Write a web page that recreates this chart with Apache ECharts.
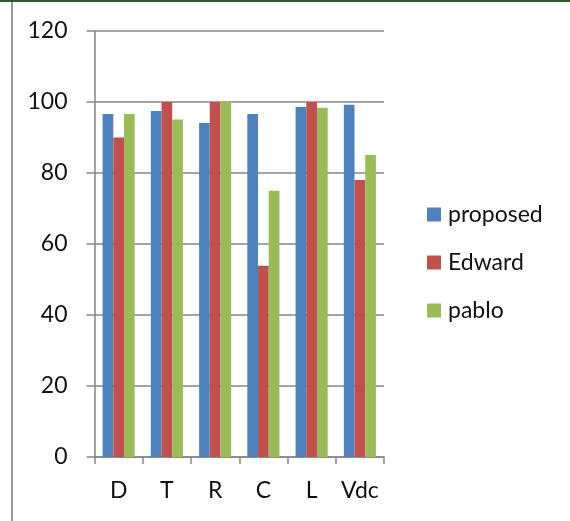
<!DOCTYPE html>
<html>
<head>
<meta charset="utf-8">
<script src="https://cdn.jsdelivr.net/npm/echarts@6/dist/echarts.min.js"></script>
<style>
  html, body { margin: 0; padding: 0; background: #fff; }
  #chart { width: 570px; height: 521px; }
</style>
</head>
<body>
<div id="chart"></div>
<script>
// Categories and series values
const categories = ['D', 'T', 'R', 'C', 'L', 'Vdc'];
const proposed = [96.6, 97.5, 94.1, 96.6, 98.6, 99.2];
const edward = [90.0, 100, 100, 53.9, 100, 78.0];
const pablo = [96.6, 95.1, 100, 75.0, 98.4, 85.1];
const seriesNames = ['proposed', 'Edward', 'pablo'];
const colors = ['#4F81BD', '#C0504D', '#9BBB59'];

const font = 'Lato, "Liberation Sans", sans-serif';
const axisGray = '#868686';
const textColor = '#111';

const chart = echarts.init(document.getElementById('chart'), null, { renderer: 'canvas' });

const values = [proposed, edward, pablo];

chart.setOption({
  animation: false,
  backgroundColor: '#fff',
  color: colors,
  graphic: [
    { type: 'rect', shape: { x: 0, y: 0, width: 570, height: 2 }, style: { fill: '#2f5a2f' } },
    { type: 'rect', shape: { x: 11, y: 2, width: 2, height: 519 }, style: { fill: '#9a9a9a' } }
  ],
  grid: { left: 94.5, right: 186, top: 31, bottom: 64, containLabel: false },
  legend: {
    orient: 'vertical',
    left: 427,
    top: 203,
    padding: 0,
    itemWidth: 14,
    itemHeight: 14,
    itemGap: 25,
    icon: 'rect',
    textStyle: { fontFamily: font, fontSize: 23, lineHeight: 23, color: textColor, padding: [0, 0, 0, 2] },
    data: seriesNames
  },
  xAxis: {
    type: 'category',
    data: categories,
    axisLine: { lineStyle: { color: axisGray, width: 1.5 } },
    axisTick: { show: true, interval: 0, length: 7, lineStyle: { color: axisGray, width: 1.5 } },
    axisLabel: { interval: 0, fontFamily: font, fontSize: 23, color: textColor, margin: 22 }
  },
  yAxis: {
    type: 'value',
    min: 0,
    max: 120,
    interval: 20,
    axisLine: { show: true, lineStyle: { color: axisGray, width: 1.5 } },
    axisTick: { show: true, length: 8, lineStyle: { color: axisGray, width: 1.5 } },
    splitLine: { lineStyle: { color: axisGray, width: 1.5 } },
    axisLabel: { fontFamily: font, fontSize: 23, color: textColor, margin: 27 }
  },
  series: seriesNames.map((name, i) => ({
    name: name,
    type: 'bar',
    data: values[i],
    barGap: '0%',
    barCategoryGap: '33.5%',
    itemStyle: { color: colors[i] }
  }))
});
</script>
</body>
</html>
